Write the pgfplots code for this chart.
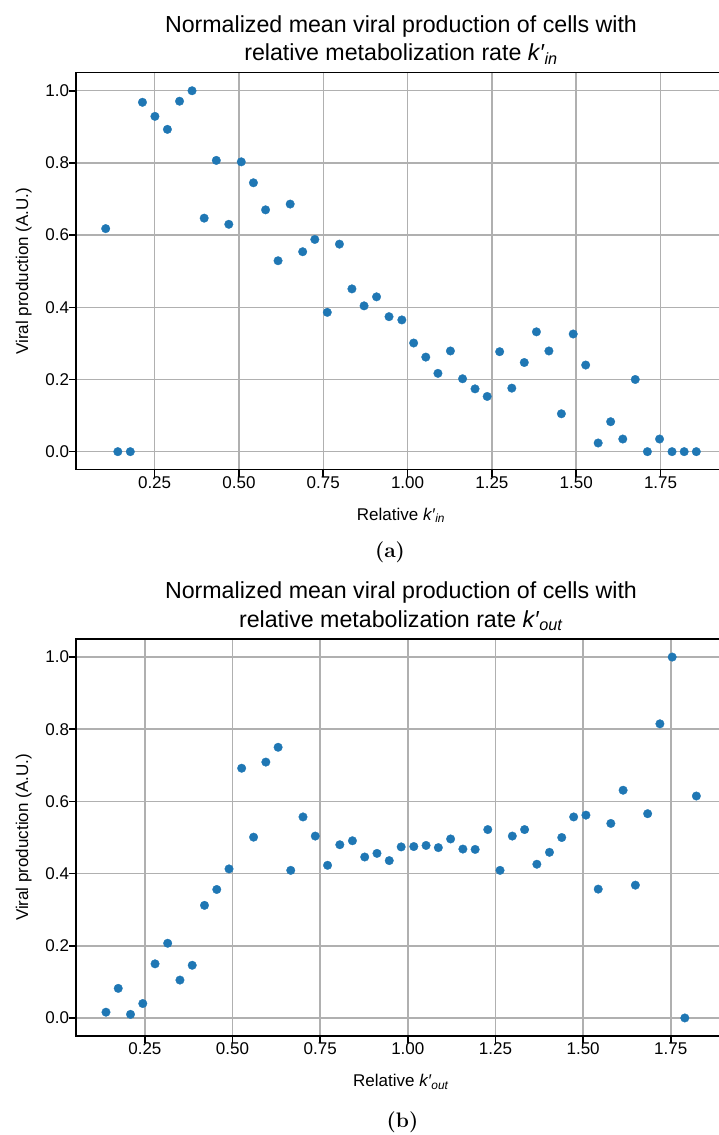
\documentclass[border=0pt]{standalone}
\usepackage{fontspec}
\setsansfont{Liberation Sans}
\usepackage{pgfplots}
\pgfplotsset{compat=1.18}
\definecolor{tabblue}{HTML}{1F77B4}
\definecolor{gridgray}{HTML}{B0B0B0}
\newcommand{\kin}{\textit{k′}\textsubscript{\textit{in}}}
\newcommand{\kout}{\textit{k′}\textsubscript{\textit{out}}}
\newcommand{\lblfont}{\fontsize{17bp}{20bp}\sffamily\selectfont}
\newcommand{\ttlfont}{\fontsize{23.2bp}{28bp}\sffamily\selectfont}
\newcommand{\capfont}{\fontsize{21bp}{24bp}\rmfamily\bfseries\selectfont}

\pgfplotstableread{
x y
0.105 0.618
0.141 0.000
0.178 0.000
0.214 0.968
0.251 0.929
0.288 0.893
0.324 0.971
0.361 1.000
0.397 0.647
0.433 0.807
0.470 0.630
0.507 0.803
0.543 0.745
0.579 0.670
0.616 0.529
0.652 0.686
0.689 0.554
0.725 0.588
0.762 0.386
0.798 0.575
0.835 0.451
0.871 0.404
0.908 0.429
0.945 0.374
0.983 0.365
1.018 0.301
1.054 0.262
1.090 0.217
1.127 0.279
1.163 0.202
1.200 0.174
1.236 0.153
1.273 0.277
1.309 0.176
1.346 0.247
1.382 0.332
1.419 0.279
1.456 0.105
1.491 0.326
1.528 0.240
1.565 0.024
1.602 0.083
1.638 0.035
1.675 0.200
1.711 0.000
1.747 0.035
1.784 0.000
1.820 0.000
1.856 0.000
}\kindata

\pgfplotstableread{
x y
0.139 0.016
0.174 0.082
0.209 0.010
0.244 0.040
0.279 0.150
0.315 0.207
0.350 0.105
0.385 0.146
0.420 0.312
0.455 0.356
0.490 0.413
0.526 0.692
0.560 0.501
0.595 0.709
0.630 0.750
0.666 0.409
0.701 0.557
0.736 0.504
0.771 0.423
0.806 0.480
0.842 0.491
0.877 0.446
0.912 0.456
0.947 0.436
0.981 0.474
1.017 0.475
1.052 0.478
1.087 0.472
1.122 0.496
1.157 0.468
1.192 0.467
1.228 0.522
1.263 0.409
1.298 0.504
1.333 0.522
1.368 0.426
1.404 0.459
1.439 0.500
1.473 0.557
1.508 0.562
1.543 0.357
1.579 0.539
1.614 0.631
1.649 0.368
1.684 0.566
1.719 0.815
1.754 1.000
1.790 0.000
1.823 0.615
}\koutdata

\pgfplotsset{
  myax/.style={
    scale only axis, width=650bp, height=397bp,
    axis on top,
    font=\lblfont,
    ymin=-0.05, ymax=1.05,
    xtick={0.25,0.5,0.75,1,1.25,1.5,1.75},
    ytick={0,0.2,0.4,0.6,0.8,1.0},
    xtick pos=bottom, ytick pos=left,
    tick align=outside,
    major tick length=6.8bp,
    tick style={black, line width=1.56bp},
    axis line style={black, line width=1.56bp},
    grid=major,
    major grid style={gridgray, line width=1.5bp},
    ticklabel style={font=\lblfont, inner sep=0pt},
    xticklabel style={/pgf/number format/.cd, fixed, fixed zerofill, precision=2, assume math mode=true},
    yticklabel style={/pgf/number format/.cd, fixed, fixed zerofill, precision=1, assume math mode=true},
    xlabel style={at={(axis description cs:0.5,-0.1272)}, anchor=base, font=\lblfont},
    ylabel style={at={(axis description cs:-0.0738,0.5)}, anchor=base, font=\lblfont},
  },
  mydots/.style={only marks, color=tabblue, mark=*, mark size=4.3bp,
    mark options={fill=tabblue, draw=tabblue, line width=0.3bp}},
}

\begin{document}
\begin{tikzpicture}
\useasboundingbox (0,0) rectangle (719bp,-1135bp);
\clip (0,0) rectangle (719bp,-1135bp);

\begin{axis}[myax, at={(76bp,-72.7bp)}, anchor=north west,
  xmin=0.017, xmax=1.944,
  xlabel={Relative \kin}, ylabel={Viral production (A.U.)}]
\addplot[mydots] table[x=x, y=y] {\kindata};
\end{axis}

\begin{axis}[myax, at={(76bp,-639bp)}, anchor=north west,
  xmin=0.0535, xmax=1.9075,
  xlabel={Relative \kout}, ylabel={Viral production (A.U.)}]
\addplot[mydots] table[x=x, y=y] {\koutdata};
\end{axis}

\node[anchor=base, font=\ttlfont] at (401bp,-32.3bp) {Normalized mean viral production of cells with};
\node[anchor=base, font=\ttlfont] at (401bp,-60.7bp) {relative metabolization rate \kin};
\node[anchor=base, font=\capfont] at (390bp,-557bp) {(a)};

\node[anchor=base, font=\ttlfont] at (401bp,-598.6bp) {Normalized mean viral production of cells with};
\node[anchor=base, font=\ttlfont] at (401bp,-627bp) {relative metabolization rate \kout};
\node[anchor=base, font=\capfont] at (402.5bp,-1127bp) {(b)};
\end{tikzpicture}
\end{document}
